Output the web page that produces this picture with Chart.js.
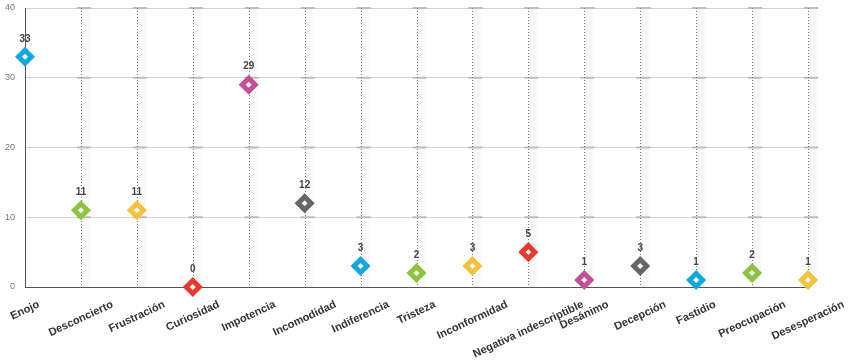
<!DOCTYPE html>
<html>
<head>
<meta charset="utf-8">
<script src="https://cdn.jsdelivr.net/npm/chart.js@4/dist/chart.umd.min.js"></script>
<style>
  html, body { margin: 0; padding: 0; background: #fff; }
  #wrap { width: 848px; height: 364px; }
</style>
</head>
<body>
<div id="wrap"><canvas id="myChart" width="848" height="364"></canvas></div>
<script>
// data
const categories = [
  "Enojo", "Desconcierto", "Frustración", "Curiosidad", "Impotencia",
  "Incomodidad", "Indiferencia", "Tristeza", "Inconformidad",
  "Negativa indescriptible", "Desánimo", "Decepción", "Fastidio",
  "Preocupación", "Desesperación"
];
const values = [33, 11, 11, 0, 29, 12, 3, 2, 3, 5, 1, 3, 1, 2, 1];
const yTicks = [0, 10, 20, 30, 40];

// colors cycle through 6
const palette = ["#12a7df", "#8cc43f", "#f5c23f", "#e43a2f", "#c34f96", "#666666"];
const pointColors = values.map((v, i) => palette[i % palette.length]);

// dotted columns, light band and small dashes on the grid lines
const columnsPlugin = {
  id: "columns",
  beforeDatasetsDraw(chart) {
    const ctx = chart.ctx;
    const x = chart.scales.x;
    const y = chart.scales.y;
    const top = chart.chartArea.top;
    const bottom = chart.chartArea.bottom;
    ctx.save();
    categories.forEach((c, i) => {
      if (i === 0) return;
      const px = x.getPixelForValue(i);
      ctx.fillStyle = "rgba(0,0,0,0.022)";
      ctx.fillRect(px, top, 9, bottom - top);
      yTicks.slice(1).forEach((t) => {
        ctx.fillStyle = "#bdbdbd";
        ctx.fillRect(px - 4, y.getPixelForValue(t) - 1, 14, 2);
      });
      ctx.strokeStyle = "#7a7a7a";
      ctx.lineWidth = 1;
      ctx.setLineDash([1, 2]);
      ctx.beginPath();
      ctx.moveTo(Math.round(px) + 0.5, top);
      ctx.lineTo(Math.round(px) + 0.5, bottom);
      ctx.stroke();
    });
    ctx.restore();
  },
  afterDatasetsDraw(chart) {
    const ctx = chart.ctx;
    const meta = chart.getDatasetMeta(0);
    ctx.save();
    ctx.font = "bold 10px 'Liberation Sans', Arial, sans-serif";
    ctx.fillStyle = "#444";
    ctx.textAlign = "center";
    ctx.textBaseline = "middle";
    meta.data.forEach((pt, i) => {
      ctx.fillText(String(values[i]), pt.x, pt.y - 18);
    });
    ctx.restore();
  },
  afterDraw(chart) {
    // rotated category labels, centred on the tick
    const ctx = chart.ctx;
    const x = chart.scales.x;
    const angle = 25 * Math.PI / 180;
    ctx.save();
    ctx.font = "bold 11px 'Liberation Sans', Arial, sans-serif";
    ctx.fillStyle = "#333";
    ctx.textAlign = "center";
    ctx.textBaseline = "middle";
    categories.forEach((c, i) => {
      const w = ctx.measureText(c).width;
      const px = x.getPixelForTick(i);
      const py = 304 + (w / 2) * Math.sin(angle);
      ctx.save();
      ctx.translate(px, py);
      ctx.rotate(-angle);
      ctx.fillText(c, 0, 0);
      ctx.restore();
    });
    ctx.restore();
  }
};

new Chart(document.getElementById("myChart").getContext("2d"), {
  type: "line",
  data: {
    labels: categories,
    datasets: [{
      data: values,
      showLine: false,
      clip: false,
      pointStyle: "rectRot",
      pointRadius: 6.5,
      pointHoverRadius: 6.5,
      pointBorderWidth: 5,
      pointBackgroundColor: "#ffffff",
      pointBorderColor: pointColors,
    }]
  },
  options: {
    responsive: false,
    animation: false,
    events: [],
    layout: { autoPadding: false, padding: { top: 8, right: 40, bottom: 77, left: 0 } },
    plugins: { legend: { display: false }, tooltip: { enabled: false } },
    scales: {
      x: {
        type: "category",
        offset: false,
        grid: { display: false, drawTicks: false },
        border: { display: true, color: "#555", width: 1 },
        ticks: { display: false },
        afterFit(scale) { scale.height = 0; },
      },
      y: {
        min: 0,
        max: 40,
        afterBuildTicks(scale) { scale.ticks = yTicks.map((v) => ({ value: v })); },
        grid: { color: "#d2d2d2", drawTicks: false },
        border: { display: true, color: "#555", width: 1 },
        ticks: {
          padding: 10,
          color: "#777",
          font: { size: 9, family: "'Liberation Sans', Arial, sans-serif" },
        },
        afterFit(scale) { scale.width = 25; scale.paddingTop = 0; scale.paddingBottom = 0; },
      }
    }
  },
  plugins: [columnsPlugin]
});
</script>
</body>
</html>
